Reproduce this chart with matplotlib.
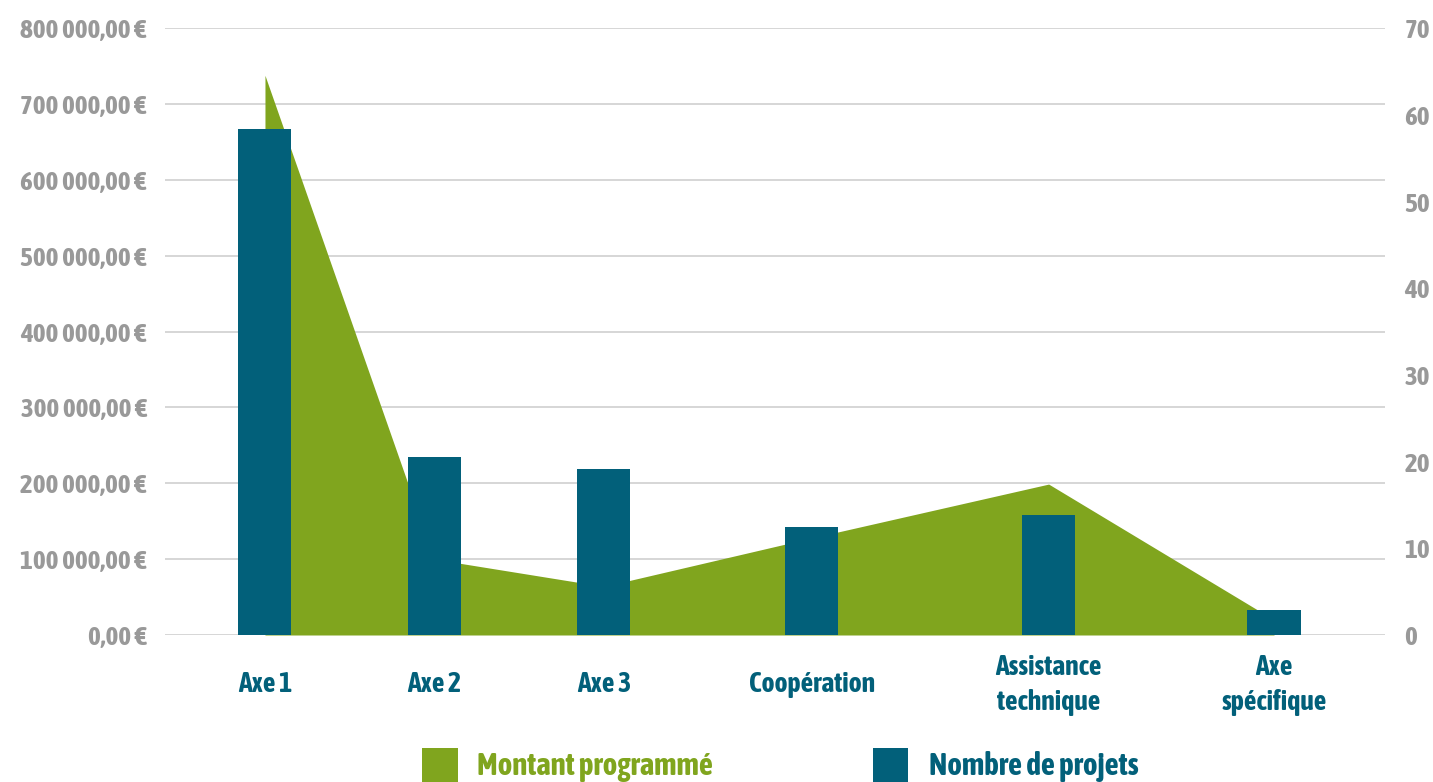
import matplotlib
matplotlib.use("Agg")
import matplotlib.pyplot as plt
from matplotlib.patches import Rectangle

CATEGORIES = ["Axe 1", "Axe 2", "Axe 3", "Coopération", "Assistance\ntechnique", "Axe\nspécifique"]
MONTANT = [738000, 100000, 64000, 128000, 199000, 20000]
NB_PROJETS = [58.4, 20.5, 19.2, 12.5, 13.8, 2.9]
LEFT_TICKS = [0, 100000, 200000, 300000, 400000, 500000, 600000, 700000, 800000]
RIGHT_TICKS = [0, 10, 20, 30, 40, 50, 60, 70]

# category positions (the source spaces them unevenly)
X_POS = [0.0, 1.0, 2.0, 3.227, 4.625, 5.955]

GREEN = "#80a51e"
TEAL = "#02607a"
GREY = "#999999"
GRID = "#d0d0d0"

plt.rcParams["font.family"] = ["Asap Condensed", "DejaVu Sans"]
plt.rcParams["font.weight"] = "bold"


def euro(v):
    s = f"{v:,.2f}".replace(",", " ").replace(".", ",")
    return f"{s} €"


fig = plt.figure(figsize=(14.33, 7.82), dpi=100)
ax = fig.add_axes([165 / 1433, 1 - 635 / 782, 1220 / 1433, (635 - 28.3) / 782])
ax2 = ax.twinx()

ax.set_ylim(0, 800000)
ax2.set_ylim(0, 70)
ax.set_xlim(-0.59, 6.61)

for t in LEFT_TICKS:
    ax.axhline(t, color=GRID, linewidth=1.2, zorder=0)

ax.fill_between(X_POS, MONTANT, 0, color=GREEN, linewidth=0, zorder=2)
ax2.bar(X_POS, NB_PROJETS, width=0.313, color=TEAL, linewidth=0, zorder=3)

ax.set_yticks(LEFT_TICKS)
ax.set_yticklabels([euro(t) for t in LEFT_TICKS])
ax2.set_yticks(RIGHT_TICKS)
ax.tick_params(axis="y", length=0, pad=13, labelsize=19.5, labelcolor=GREY)
ax2.tick_params(axis="y", length=0, pad=14, labelsize=19.5, labelcolor=GREY)
for lab in ax.get_yticklabels() + ax2.get_yticklabels():
    lab.set_fontweight("bold")

ax.set_xticks(X_POS)
ax.set_xticklabels(CATEGORIES, color=TEAL, fontsize=20, fontweight="bold",
                   linespacing=1.4, va="center")
ax.tick_params(axis="x", length=0, pad=36)

for a in (ax, ax2):
    for sp in a.spines.values():
        sp.set_visible(False)

ax.set_zorder(1)
ax2.set_zorder(2)
ax2.patch.set_visible(False)

# legend drawn by hand, partly cut by the bottom edge like the source
W, H = 1433, 782
fig.add_artist(Rectangle((422 / W, 0), 36 / W, 34 / H, transform=fig.transFigure,
                         color=GREEN, linewidth=0))
fig.text(477 / W, 1 - 766 / H, "Montant programmé", color=GREEN, fontsize=22.3,
         fontweight="bold", va="center", ha="left")
fig.add_artist(Rectangle((873 / W, 0), 35 / W, 34 / H, transform=fig.transFigure,
                         color=TEAL, linewidth=0))
fig.text(929 / W, 1 - 766 / H, "Nombre de projets", color=TEAL, fontsize=22.3,
         fontweight="bold", va="center", ha="left")

fig.savefig("out.png", dpi=100)
